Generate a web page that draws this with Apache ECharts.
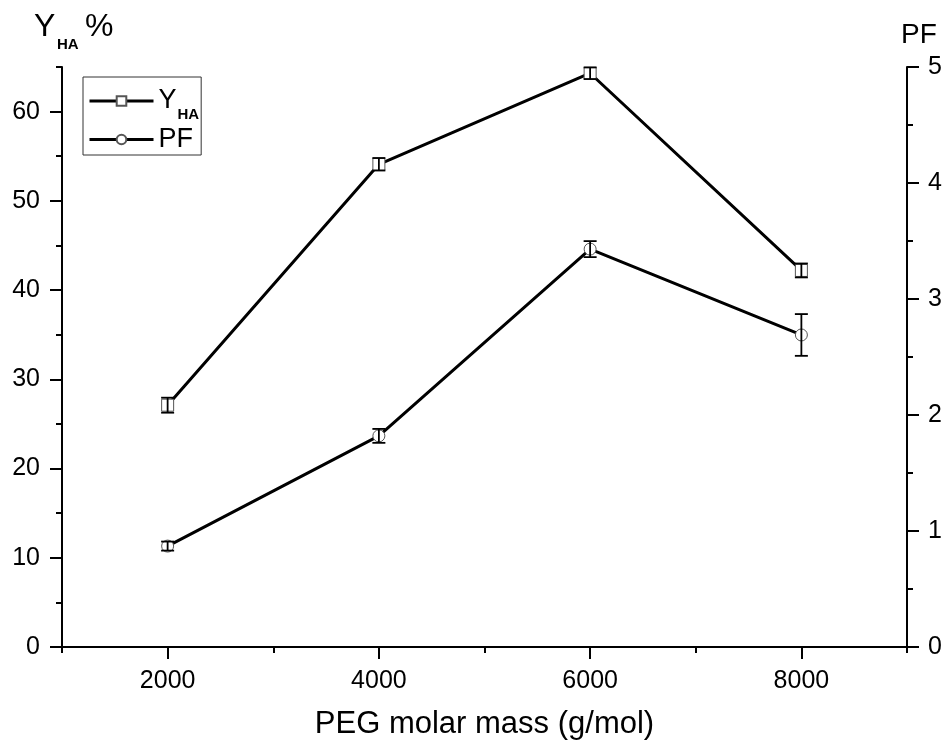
<!DOCTYPE html>
<html><head><meta charset="utf-8">
<script src="https://cdn.jsdelivr.net/npm/echarts@6/dist/echarts.min.js"></script>
<style>html,body{margin:0;padding:0;background:#fff}#c{width:949px;height:748px}</style>
</head><body><div id="c"></div>
<script>
// ---- data ----
const xValues   = [2000, 4000, 6000, 8000];
const yhaValues = [27.1, 54.1, 64.3, 42.2];
const yhaErrors = [0.84, 0.7, 0.65, 0.78];
const pfValues  = [0.87, 1.82, 3.43, 2.69];
const pfErrors  = [0.039, 0.06, 0.069, 0.18];
// ---- tick labels ----
const xMajorTicks = [2000, 4000, 6000, 8000];
const xMinorTicks = [1000, 3000, 5000, 7000, 9000];
const leftMajorTicks = [0, 10, 20, 30, 40, 50, 60];
const leftMinorTicks = [5, 15, 25, 35, 45, 55, 65];
const rightMajorTicks = [0, 1, 2, 3, 4, 5];
const rightMinorTicks = [0.5, 1.5, 2.5, 3.5, 4.5];

const FONT = '"Liberation Sans", Arial, sans-serif';
const chart = echarts.init(document.getElementById('c'), null, {renderer: 'canvas'});

function errData(vals, errs) {
  return xValues.map((x, i) => [x, vals[i] - errs[i], vals[i] + errs[i]]);
}
function errRender(params, api) {
  const x = api.value(0);
  const lo = api.coord([x, api.value(1)]);
  const hi = api.coord([x, api.value(2)]);
  const hw = 6.5;
  const st = {stroke: '#000', lineWidth: 1.8};
  return {type: 'group', children: [
    {type: 'line', shape: {x1: lo[0], y1: lo[1], x2: hi[0], y2: hi[1]}, style: st},
    {type: 'line', shape: {x1: lo[0]-hw, y1: lo[1], x2: lo[0]+hw, y2: lo[1]}, style: st},
    {type: 'line', shape: {x1: hi[0]-hw, y1: hi[1], x2: hi[0]+hw, y2: hi[1]}, style: st}
  ]};
}
const axisLineStyle = {color: '#000', width: 2};
const labelStyle = {color: '#000', fontFamily: FONT, fontSize: 25, formatter: v => String(v)};

const option = {
  backgroundColor: '#fff',
  animation: false,
  grid: {left: 62, right: 42, top: 67, bottom: 101},
  legend: {
    orient: 'vertical', left: 83, top: 77,
    padding: [3, 2, 2, 5], itemGap: 4,
    itemWidth: 64, itemHeight: 12,
    borderColor: '#333', borderWidth: 1,
    lineStyle: {color: '#000', width: 3},
    data: ['YHA', 'PF'],
    formatter: n => n === 'YHA' ? '{a|Y}{b|HA}' : '{a|PF}',
    textStyle: {
      rich: {
        a: {fontFamily: FONT, fontSize: 27, lineHeight: 27, color: '#000', verticalAlign: 'middle'},
        b: {fontFamily: FONT, fontSize: 15, fontWeight: 'bold', lineHeight: 15, color: '#000', verticalAlign: 'middle', padding: [27, 0, 0, 1]}
      }
    }
  },
  xAxis: [{
    type: 'value', min: 1000, max: 9000,
    name: 'PEG molar mass (g/mol)', nameLocation: 'middle', nameGap: 62,
    nameTextStyle: {color: '#000', fontFamily: FONT, fontSize: 31},
    axisLine: {show: true, lineStyle: axisLineStyle},
    axisTick: {show: true, customValues: xMajorTicks, length: 12, lineStyle: axisLineStyle},
    axisLabel: {customValues: xMajorTicks, margin: 22, ...labelStyle},
    splitLine: {show: false}
  }, {
    type: 'value', min: 1000, max: 9000, position: 'bottom',
    axisLine: {show: false},
    axisTick: {show: true, customValues: xMinorTicks, length: 6, lineStyle: axisLineStyle},
    axisLabel: {show: false}, splitLine: {show: false}
  }],
  yAxis: [{
    type: 'value', min: 0, max: 65, position: 'left',
    axisLine: {show: true, lineStyle: axisLineStyle},
    axisTick: {show: true, customValues: leftMajorTicks, length: 12, lineStyle: axisLineStyle},
    axisLabel: {customValues: leftMajorTicks, margin: 22, ...labelStyle},
    splitLine: {show: false}
  }, {
    type: 'value', min: 0, max: 5, position: 'right',
    axisLine: {show: true, lineStyle: axisLineStyle},
    axisTick: {show: true, customValues: rightMajorTicks, length: 12, lineStyle: axisLineStyle},
    axisLabel: {customValues: rightMajorTicks, margin: 21, ...labelStyle},
    splitLine: {show: false}
  }, {
    type: 'value', min: 0, max: 65, position: 'left', offset: 0,
    axisLine: {show: false},
    axisTick: {show: true, customValues: leftMinorTicks, length: 6, lineStyle: axisLineStyle},
    axisLabel: {show: false}, splitLine: {show: false}
  }, {
    type: 'value', min: 0, max: 5, position: 'right', offset: 0,
    axisLine: {show: false},
    axisTick: {show: true, customValues: rightMinorTicks, length: 6, lineStyle: axisLineStyle},
    axisLabel: {show: false}, splitLine: {show: false}
  }],
  graphic: [
    {type: 'text', left: 34, top: 11, style: {text: 'Y', fontFamily: FONT, fontSize: 32, fill: '#000'}},
    {type: 'text', left: 57, top: 37, style: {text: 'HA', fontFamily: FONT, fontSize: 15, fontWeight: 'bold', fill: '#000'}},
    {type: 'text', left: 85, top: 11, style: {text: '%', fontFamily: FONT, fontSize: 32, fill: '#000'}},
    {type: 'text', left: 901, top: 21, style: {text: 'PF', fontFamily: FONT, fontSize: 28, fill: '#000'}}
  ],
  series: [{
    name: 'YHA', type: 'line', xAxisIndex: 0, yAxisIndex: 0,
    data: xValues.map((x, i) => [x, yhaValues[i]]),
    symbol: 'rect', symbolSize: 12, showAllSymbol: true,
    lineStyle: {color: '#000', width: 3},
    itemStyle: {color: '#fff', borderColor: '#555', borderWidth: 1},
    z: 2
  }, {
    name: 'PF', type: 'line', xAxisIndex: 0, yAxisIndex: 1,
    data: xValues.map((x, i) => [x, pfValues[i]]),
    symbol: 'circle', symbolSize: 12, showAllSymbol: true,
    lineStyle: {color: '#000', width: 3},
    itemStyle: {color: '#fff', borderColor: '#555', borderWidth: 1},
    z: 2
  }, {
    type: 'custom', xAxisIndex: 0, yAxisIndex: 0,
    data: errData(yhaValues, yhaErrors), renderItem: errRender, z: 5, silent: true
  }, {
    type: 'custom', xAxisIndex: 0, yAxisIndex: 1,
    data: errData(pfValues, pfErrors), renderItem: errRender, z: 5, silent: true
  }]
};
chart.setOption(option);
</script></body></html>
